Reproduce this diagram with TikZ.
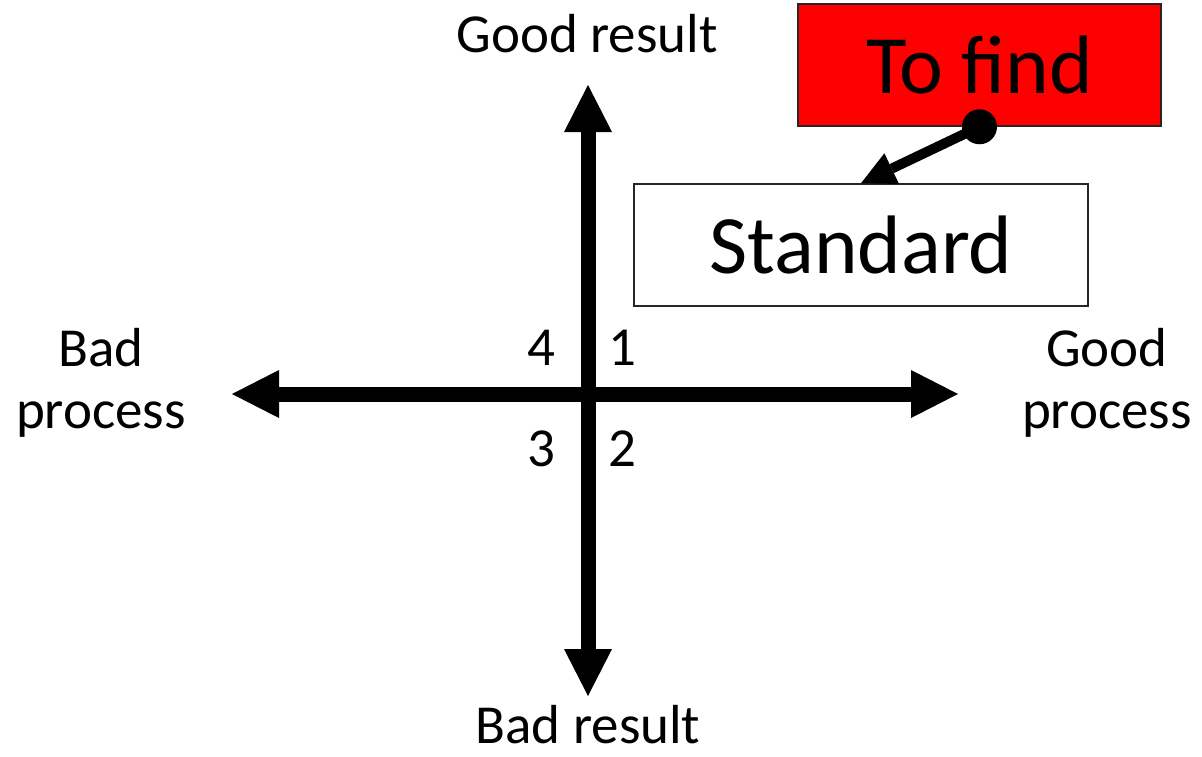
\documentclass[tikz,border=0pt]{standalone}
\usepackage{fontspec}
\setmainfont{Carlito}
\usetikzlibrary{arrows.meta}
\tikzset{
  bigtip/.tip={Triangle[length=47pt,width=48pt,line width=0pt]},
  smalltip/.tip={Triangle[length=34pt,width=34pt,line width=0pt]},
  lbl/.style={font=\fontsize{55}{64}\selectfont, inner sep=0pt, anchor=base, align=center},
  boxtxt/.style={font=\fontsize{83}{96}\selectfont, draw=black!85, line width=1.5pt, inner sep=0pt},
  axisline/.style={line width=15pt, bigtip-bigtip},
  conn/.style={line width=10pt, -smalltip},
}
\begin{document}
\begin{tikzpicture}[x=1pt,y=-1pt]
\useasboundingbox (0,0) rectangle (1202,756);
\fill[white] (0,0) rectangle (1202,756);
% axes
\coordinate (L) at (232,394);
\coordinate (R) at (958,394);
\coordinate (T) at (588,85);
\coordinate (B) at (588,696);
\draw[axisline] (L) -- (R);
\draw[axisline] (B) -- (T);
% axis labels
\node[lbl] (good) at (587,52) {Good result};
\node[lbl] (bad) at (588,743) {Bad result};
\node[lbl] (badp1) at (101,366) {Bad};
\node[lbl] (badp2) at (101,428) {process};
\node[lbl] (goodp1) at (1107,366) {Good};
\node[lbl] (goodp2) at (1107,428) {process};
% quadrant numbers
\node[lbl] (q4) at (541,365) {4};
\node[lbl] (q1) at (622,365) {1};
\node[lbl] (q3) at (541,466) {3};
\node[lbl] (q2) at (622,466) {2};
% boxes
\node[boxtxt, fill=red, minimum width=363pt, minimum height=122pt] (find) at (979.5,65) {To find};
\node[boxtxt, fill=white, minimum width=454pt, minimum height=122pt] (std) at (861,245) {Standard};
% connector
\draw[conn] (find.south) -- (std.north);
\fill (find.south) circle[radius=17.5];
\end{tikzpicture}
\end{document}
